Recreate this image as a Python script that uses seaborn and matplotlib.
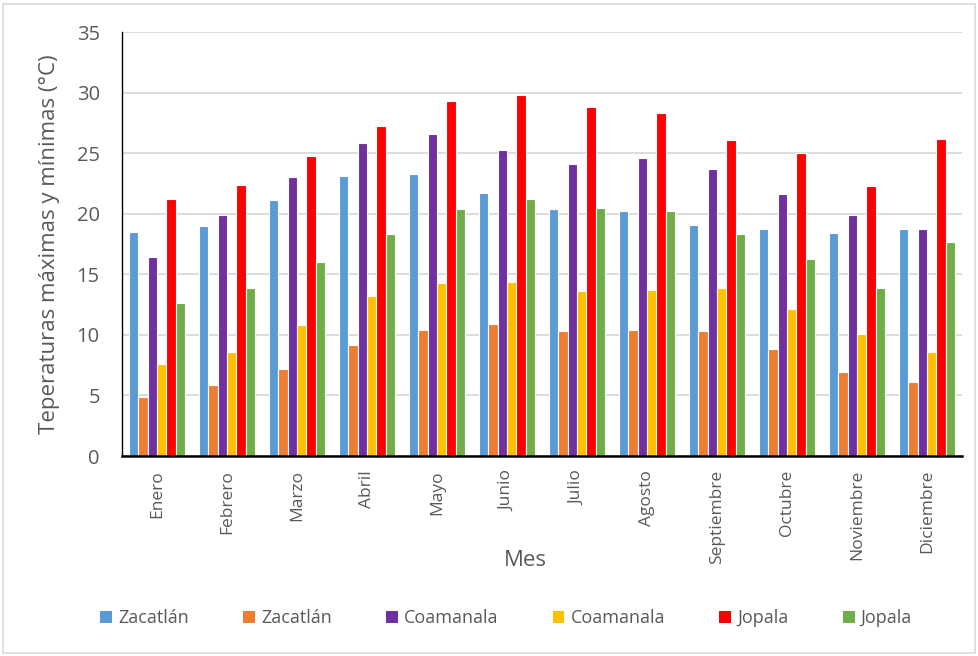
import matplotlib
matplotlib.use("Agg")
import matplotlib.pyplot as plt
import seaborn as sns
import pandas as pd
from matplotlib.patches import Patch, Rectangle

meses = ["Enero", "Febrero", "Marzo", "Abril", "Mayo", "Junio", "Julio",
         "Agosto", "Septiembre", "Octubre", "Noviembre", "Diciembre"]
series_labels = ["Zacatlán", "Zacatlán", "Coamanala", "Coamanala", "Jopala", "Jopala"]
zacatlan_max = [18.5, 19.0, 21.1, 23.1, 23.3, 21.7, 20.4, 20.2, 19.1, 18.7, 18.4, 18.7]
zacatlan_min = [4.9, 5.9, 7.2, 9.2, 10.4, 10.9, 10.3, 10.4, 10.3, 8.8, 6.9, 6.1]
coamanala_max = [16.4, 19.9, 23.0, 25.8, 26.6, 25.3, 24.1, 24.6, 23.7, 21.6, 19.9, 18.7]
coamanala_min = [7.6, 8.6, 10.8, 13.2, 14.3, 14.4, 13.6, 13.7, 13.9, 12.1, 10.1, 8.6]
jopala_max = [21.2, 22.4, 24.8, 27.2, 29.3, 29.8, 28.8, 28.3, 26.1, 25.0, 22.3, 26.2]
jopala_min = [12.6, 13.9, 16.0, 18.3, 20.4, 21.2, 20.5, 20.2, 18.3, 16.3, 13.9, 17.7]
colors = ["#5B9BD5", "#ED7D31", "#7030A0", "#FFC000", "#FF0000", "#70AD47"]

all_series = [zacatlan_max, zacatlan_min, coamanala_max, coamanala_min, jopala_max, jopala_min]
keys = ["s%d" % i for i in range(len(all_series))]
rows = []
for k, vals in zip(keys, all_series):
    for m, v in zip(meses, vals):
        rows.append({"Mes": m, "serie": k, "valor": v})
df = pd.DataFrame(rows)

sns.set_theme(style="white")
plt.rcParams['font.family'] = ['Open Sans', 'DejaVu Sans']
txt = "#595959"

fig = plt.figure(figsize=(9.79, 6.56), dpi=100)
ax = fig.add_axes([122/979, 1-456/656, (962-122)/979, (456-32)/656])

sns.barplot(data=df, x="Mes", y="valor", hue="serie", hue_order=keys,
            palette=dict(zip(keys, colors)), order=meses, ax=ax,
            width=0.8, edgecolor="white", linewidth=0.8, saturation=1, legend=False)

ax.set_ylim(0, 35)
ax.set_yticks(range(0, 36, 5))
ax.set_xlim(-0.5, 11.5)
ax.yaxis.grid(True, color="#D9D9D9", linewidth=1.3)
ax.set_axisbelow(True)
for s in ["top", "right"]:
    ax.spines[s].set_visible(False)
ax.spines["left"].set_color("black")
ax.spines["left"].set_linewidth(1.0)
ax.spines["bottom"].set_color("black")
ax.spines["bottom"].set_linewidth(1.8)
ax.tick_params(axis="y", labelsize=14.5, colors=txt, length=0, pad=16)
ax.tick_params(axis="x", labelsize=12.5, colors=txt, length=0, pad=10)
for lab in ax.get_xticklabels():
    lab.set_rotation(90)
ax.set_xlabel("Mes", fontsize=16, color=txt)
ax.xaxis.set_label_coords((525-122)/840, -(550-456)/424)
ax.set_ylabel("Teperaturas máximas y mínimas (°C)", fontsize=16, color=txt, labelpad=12)

handles = [Patch(facecolor=c, edgecolor="none") for c in colors]
fig.legend(handles, series_labels, loc="center", bbox_to_anchor=(506/979, 1-618/656),
           ncol=6, frameon=False, fontsize=13, labelcolor=txt,
           handlelength=0.65, handleheight=0.65, handletextpad=0.35, columnspacing=3.0)

fig.patches.append(Rectangle((3/979, 3/656), 1-7/979, 1-7/656, transform=fig.transFigure,
                             fill=False, edgecolor="#D9D9D9", linewidth=1.2))
fig.savefig("out.png", dpi=100)
